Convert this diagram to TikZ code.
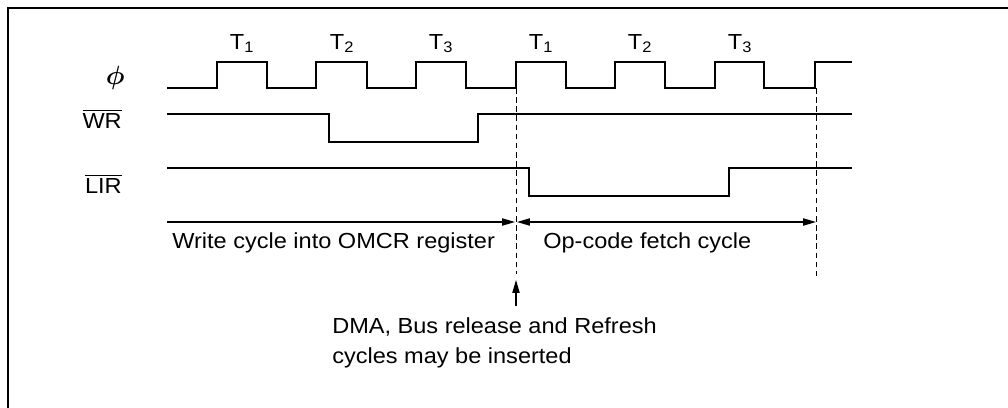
\documentclass[tikz,border=0pt]{standalone}
\usepackage{amsmath}
\usepackage{fontspec}
\setmainfont{Liberation Sans}[FakeStretch=1.08]
\usetikzlibrary{arrows.meta}
\tikzset{
  senal/.style={black,line width=1.4pt},
  guia/.style={black,line width=0.7pt,dash pattern=on 4pt off 2.5pt},
  flecha/.style={black,line width=0.8pt},
  punta/.tip={Triangle[length=3.2mm,width=1.8mm]},
  texto/.style={inner sep=0pt,font=\fontsize{15.5}{21.3}\selectfont}
}
\begin{document}
\begin{tikzpicture}[x=0.025cm,y=-0.025cm]
    \useasboundingbox (0,0) rectangle (1008,408);
    % Marco
    \draw[line width=1.8pt] (8,408) -- (8,8) -- (1008,8);
    % Nombres
    \node[texto,anchor=east] (phi) at (125,78) {\scalebox{1.3}{$\boldsymbol{\phi}$}};
    \node[texto,anchor=base east] (wr) at (122,128) {$\overline{\mbox{WR}}$};
    \node[texto,anchor=base east] (lir) at (122,193) {$\overline{\mbox{LIR}}$};
    \foreach \c/\t [count=\i] in {242/1,342/2,441/3,541/1,640/2,740/3}
      \node[texto,anchor=base] (t\i) at (\c,49) {T\textsubscript{\t}};
    % Señales
    \draw[senal] (167,88) foreach \r/\f in {217/267,316/367,416/466,516/566,615/665,715/764}
      { -- (\r,88) -- (\r,62) -- (\f,62) -- (\f,88) } -- (815,88) -- (815,62) -- (852,62);
    \draw[senal] (167,114) -- (329,114) -- (329,142) -- (478,142) -- (478,114) -- (852,114);
    \draw[senal] (167,168) -- (529,168) -- (529,196) -- (729,196) -- (729,168) -- (852,168);
    % Guías
    \coordinate (g1a) at (516,88);
    \coordinate (g1b) at (516,274);
    \coordinate (g2a) at (816,88);
    \coordinate (g2b) at (816,277);
    \draw[guia] (g1a) -- (g1b);
    \draw[guia] (g2a) -- (g2b);
    % Flechas
    \coordinate (ini) at (167,222);
    \coordinate (izq) at (515,222);
    \coordinate (der) at (517,222);
    \coordinate (fin) at (816,222);
    \draw[flecha,-punta] (ini) -- (izq);
    \draw[flecha,punta-punta] (der) -- (fin);
    % Textos
    \node[texto,anchor=base west] (escr) at (172,248) {Write cycle into OMCR register};
    \node[texto,anchor=base west] (busq) at (543,248) {Op-code fetch cycle};
    \node[texto,anchor=north west,align=left] (dma) at (332,317)
      {DMA, Bus release and Refresh\\cycles may be inserted};
    \coordinate (dtip) at (516,280);
    \draw[flecha,-punta] (dtip |- dma.north) ++(0,-11) -- (dtip);
\end{tikzpicture}
\end{document}
